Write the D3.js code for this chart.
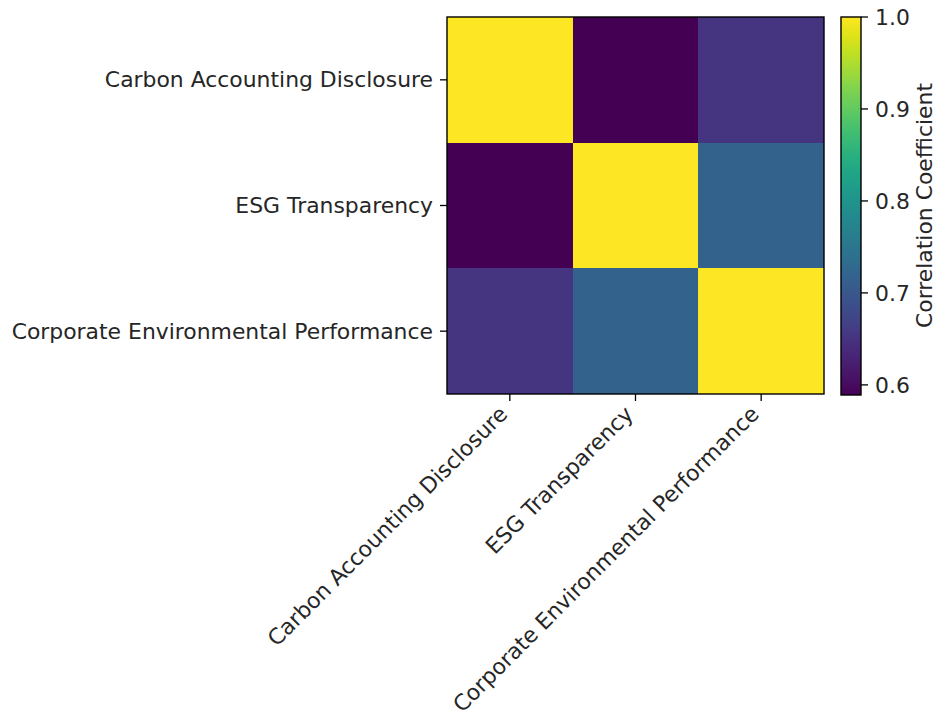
<!DOCTYPE html>
<html>
<head>
<meta charset="utf-8">
<script src="https://cdn.jsdelivr.net/npm/d3@7"></script>
<style>
  html, body { margin: 0; padding: 0; background: #fff; }
  svg { display: block; }
  text { font-family: "DejaVu Sans", sans-serif; fill: #262626; }
</style>
</head>
<body>
<div id="chart"></div>
<script>
const categories = ["Carbon Accounting Disclosure", "ESG Transparency", "Corporate Environmental Performance"];
const row0 = [1.0, 0.589, 0.653];
const row1 = [0.589, 1.0, 0.716];
const row2 = [0.653, 0.716, 1.0];
const matrix = [row0, row1, row2];
const colorTicks = [0.6, 0.7, 0.8, 0.9, 1.0];
const colorbarLabel = "Correlation Coefficient";

const W = 936, H = 718;
const FS = "21.9px";
const plot = { left: 447, top: 17, right: 824, bottom: 394 };
const cb = { left: 841, right: 861 };

const svg = d3.select("#chart").append("svg").attr("width", W).attr("height", H);

const x = d3.scaleBand().domain(categories).range([plot.left, plot.right]).padding(0);
const y = d3.scaleBand().domain(categories).range([plot.top, plot.bottom]).padding(0);

const allVals = matrix.flat();
const vmin = d3.min(allVals), vmax = d3.max(allVals);
const color = d3.scaleSequential(d3.interpolateViridis).domain([vmin, vmax]);

const cells = [];
matrix.forEach((r, i) => r.forEach((v, j) => cells.push({ row: categories[i], col: categories[j], v })));

svg.append("g").selectAll("rect").data(cells).join("rect")
  .attr("x", d => x(d.col))
  .attr("y", d => y(d.row))
  .attr("width", x.bandwidth())
  .attr("height", y.bandwidth())
  .attr("fill", d => color(d.v))
  .attr("shape-rendering", "crispEdges");

svg.append("rect")
  .attr("x", plot.left).attr("y", plot.top)
  .attr("width", plot.right - plot.left).attr("height", plot.bottom - plot.top)
  .attr("fill", "none").attr("stroke", "#000").attr("stroke-width", 1.4);

// Y axis
const yAxis = svg.append("g");
categories.forEach(c => {
  const cy = y(c) + y.bandwidth() / 2;
  yAxis.append("line").attr("x1", plot.left - 7).attr("x2", plot.left).attr("y1", cy).attr("y2", cy)
    .attr("stroke", "#000").attr("stroke-width", 1.3);
  yAxis.append("text").attr("x", plot.left - 14).attr("y", cy).attr("dy", "0.35em")
    .attr("text-anchor", "end").attr("font-size", FS).text(c);
});

// X axis
const xAxis = svg.append("g");
categories.forEach(c => {
  const cx = x(c) + x.bandwidth() / 2;
  xAxis.append("line").attr("x1", cx).attr("x2", cx).attr("y1", plot.bottom).attr("y2", plot.bottom + 7)
    .attr("stroke", "#000").attr("stroke-width", 1.3);
  xAxis.append("text")
    .attr("transform", `translate(${cx - 1},${plot.bottom + 21.5}) rotate(-45)`)
    .attr("text-anchor", "end").attr("font-size", FS).text(c);
});

// Colorbar
const cbScale = d3.scaleLinear().domain([vmin, vmax]).range([plot.bottom + 1, plot.top]);
const defs = svg.append("defs");
const grad = defs.append("linearGradient").attr("id", "cbgrad")
  .attr("x1", 0).attr("y1", 1).attr("x2", 0).attr("y2", 0);
d3.range(0, 1.0001, 0.02).forEach(t => {
  grad.append("stop").attr("offset", t).attr("stop-color", d3.interpolateViridis(t));
});
svg.append("rect")
  .attr("x", cb.left).attr("y", plot.top)
  .attr("width", cb.right - cb.left).attr("height", plot.bottom + 1 - plot.top)
  .attr("fill", "url(#cbgrad)").attr("stroke", "#000").attr("stroke-width", 1.4);

const cbAxis = svg.append("g");
colorTicks.forEach(t => {
  const ty = cbScale(t);
  cbAxis.append("line").attr("x1", cb.right).attr("x2", cb.right + 7).attr("y1", ty).attr("y2", ty)
    .attr("stroke", "#000").attr("stroke-width", 1.3);
  cbAxis.append("text").attr("x", cb.right + 14).attr("y", ty).attr("dy", "0.35em")
    .attr("text-anchor", "start").attr("font-size", FS).text(d3.format(".1f")(t));
});

svg.append("text")
  .attr("transform", `translate(${932},${(plot.top + plot.bottom) / 2}) rotate(-90)`)
  .attr("text-anchor", "middle").attr("font-size", FS)
  .text(colorbarLabel);
</script>
</body>
</html>
